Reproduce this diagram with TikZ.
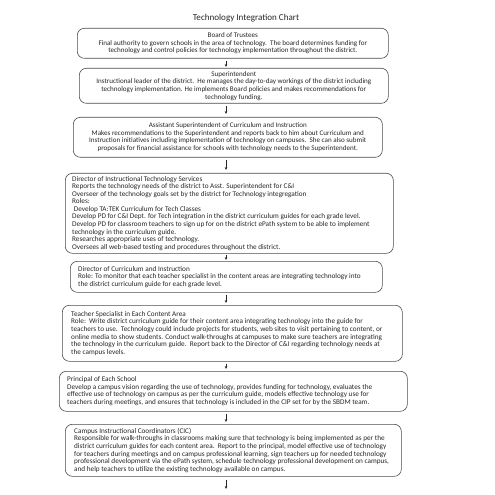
\documentclass[tikz,border=0pt]{standalone}
\usepackage{fontspec}
\setmainfont{Carlito}
\usetikzlibrary{arrows.meta}
\begin{document}
\begin{tikzpicture}[x=1bp,y=-1bp,
  box/.style={draw=black!70, line width=0.6bp, rounded corners=7bp, anchor=north west, inner sep=0pt},
  ctext/.style={align=center, font=\fontsize{7.1}{7.6}\selectfont, text=black!85, inner sep=0pt},
  ltext/.style={align=left, font=\fontsize{7.25}{7.6}\selectfont, text=black!85, inner sep=0pt, anchor=west},
  link/.style={-{Stealth[length=3bp,width=2.6bp]}, line width=0.6bp, draw=black!85}
]
\useasboundingbox (0,0) rectangle (495,495);
\node[font=\fontsize{9.1}{10}\selectfont, text=black!85] (title) at (246,18) {Technology Integration Chart};

\node[box, minimum width=311bp, minimum height=30bp] (b1) at (77,28) {};
\node[ctext] (t1) at (b1.center) {Board of Trustees\\
Final authority to govern schools in the area of technology.\ \ The board determines funding for\\
technology and control policies for technology implementation throughout the district.};

\node[box, minimum width=309bp, minimum height=35bp] (b2) at (79,68) {};
\node[ctext] (t2) at (b2.center) {Superintendent\\
Instructional leader of the district.\ \ He manages the day-to-day workings of the district including\\
technology implementation. He implements Board policies and makes recommendations for\\
technology funding.};

\node[box, minimum width=309bp, minimum height=40bp] (b3) at (73,117) {};
\node[ctext] (t3) at (b3.center) {Assistant Superintendent of Curriculum and Instruction\\
Makes recommendations to the Superintendent and reports back to him about Curriculum and\\
Instruction initiatives including implementation of technology on campuses.\ \ She can also submit\\
proposals for financial assistance for schools with technology needs to the Superintendent.};

\node[box, minimum width=328bp, minimum height=80bp] (b4) at (65,173) {};
\node[ltext] (t4) at ([xshift=7bp]b4.west) {Director of Instructional Technology Services\\
Reports the technology needs of the district to Asst. Superintendent for C\&I\\
Overseer of the technology goals set by the district for Technology integregation\\
Roles:\\
\ Develop TA:TEK Curriculum for Tech Classes\\
Develop PD for C\&I Dept. for Tech integration in the district curriculum guides for each grade level.\\
Develop PD for classroom teachers to sign up for on the district ePath system to be able to implement\\
technology in the curriculum guide.\\
Researches appropriate uses of technology.\\
Oversees all web-based testing and procedures throughout the district.};

\node[box, minimum width=312bp, minimum height=31bp] (b5) at (70,261) {};
\node[ltext] (t5) at ([xshift=8bp]b5.west) {Director of Curriculum and Instruction\\
Role: To monitor that each teacher specialist in the content areas are integrating technology into\\
the district curriculum guide for each grade level.};

\node[box, minimum width=340bp, minimum height=56bp] (b6) at (62,305) {};
\node[ltext] (t6) at ([xshift=9bp]b6.west) {Teacher Specialist in Each Content Area\\
Role:\ \ Write district curriculum guide for their content area integrating technology into the guide for\\
teachers to use.\ \ Technology could include projects for students, web sites to visit pertaining to content, or\\
online media to show students. Conduct walk-throughs at campuses to make sure teachers are integrating\\
the technology in the curriculum guide.\ \ Report back to the Director of C\&I regarding technology needs at\\
the campus levels.};

\node[box, minimum width=348bp, minimum height=40bp] (b7) at (59,371) {};
\node[ltext] (t7) at ([xshift=8bp]b7.west) {Principal of Each School\\
Develop a campus vision regarding the use of technology, provides funding for technology, evaluates the\\
effective use of technology on campus as per the curriculum guide, models effective technology use for\\
teachers during meetings, and ensures that technology is included in the CIP set for by the SBDM team.};

\node[box, minimum width=336bp, minimum height=52bp] (b8) at (65,424) {};
\node[ltext] (t8) at ([xshift=9bp]b8.west) {Campus Instructional Coordinators (CIC)\\
Responsible for walk-throughs in classrooms making sure that technology is being implemented as per the\\
district curriculum guides for each content area.\ \ Report to the principal, model effective use of technology\\
for teachers during meetings and on campus professional learning, sign teachers up for needed technology\\
professional development via the ePath system, schedule technology professional development on campus,\\
and help teachers to utilize the existing technology available on campus.};

\coordinate (ax) at (226,0);
\coordinate (end) at (226,489);
\draw[link, shorten <=2bp, shorten >=1bp] (b1.south -| ax) -- (b2.north -| ax);
\draw[link, shorten <=2bp, shorten >=3bp] (b2.south -| ax) -- (b3.north -| ax);
\draw[link, shorten <=2bp, shorten >=3bp] (b3.south -| ax) -- (b4.north -| ax);
\draw[link, shorten <=1bp, shorten >=1bp] (b4.south -| ax) -- (b5.north -| ax);
\draw[link, shorten <=2bp, shorten >=2bp] (b5.south -| ax) -- (b6.north -| ax);
\draw[link, shorten <=2bp, shorten >=2bp] (b6.south -| ax) -- (b7.north -| ax);
\draw[link, shorten <=2bp, shorten >=2bp] (b7.south -| ax) -- (b8.north -| ax);
\draw[link, shorten <=3bp] (b8.south -| ax) -- (end);
\end{tikzpicture}
\end{document}
